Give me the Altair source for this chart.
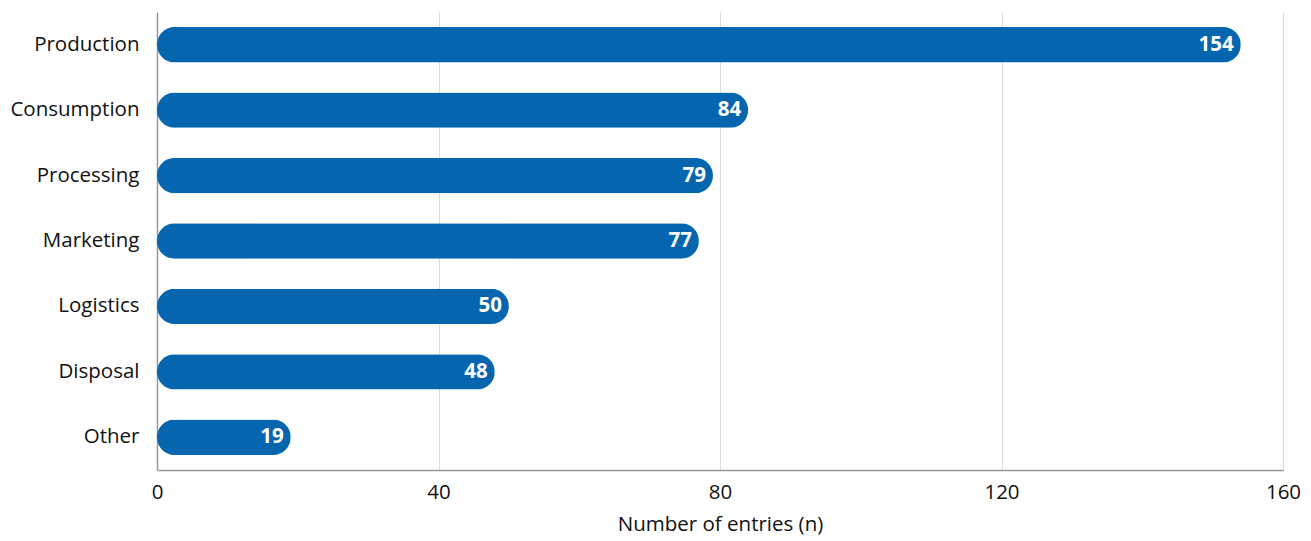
import altair as alt
import pandas as pd

categories = ["Production", "Consumption", "Processing", "Marketing", "Logistics", "Disposal", "Other"]
values = [154, 84, 79, 77, 50, 48, 19]
x_ticks = [0, 40, 80, 120, 160]

df = pd.DataFrame({"category": categories, "n": values})

FONT = "Open Sans"

y_enc = alt.Y(
    "category:N",
    sort=categories,
    scale=alt.Scale(paddingInner=0.46, paddingOuter=0.23),
    axis=alt.Axis(
        title=None, ticks=False, labelFontSize=20.5, labelFont=FONT, labelColor="#111",
        labelPadding=18, domainColor="#999", domainWidth=1.5, grid=False,
    ),
)
x_enc = alt.X(
    "n:Q",
    scale=alt.Scale(domain=[0, 160], nice=False),
    axis=alt.Axis(
        values=x_ticks, title="Number of entries (n)", titleFont=FONT, titleFontSize=20.5,
        titleFontWeight="normal", titleColor="#111", titlePadding=12,
        labelFont=FONT, labelFontSize=20.5, labelColor="#111", labelPadding=12,
        labelFlush=False,
        ticks=False, domainColor="#999", domainWidth=1.5,
        grid=True, gridColor="#dcdcdc", gridWidth=1,
    ),
)

bars = alt.Chart(df).mark_bar(color="#0565AF", cornerRadius=17.5).encode(x=x_enc, y=y_enc)
labels = alt.Chart(df).mark_text(
    align="right", baseline="middle", dx=-7, color="white", font=FONT,
    fontSize=20.5, fontWeight="bold",
).encode(x="n:Q", y=alt.Y("category:N", sort=categories), text="n:Q")

chart = (bars + labels).properties(
    width=1126, height=458,
    autosize=alt.AutoSizeParams(type="none"),
    padding={"left": 157, "top": 12, "right": 28, "bottom": 71},
).configure(background="white").configure_view(stroke=None)

chart.save("out.html", embed_options={"renderer": "svg", "actions": False})
